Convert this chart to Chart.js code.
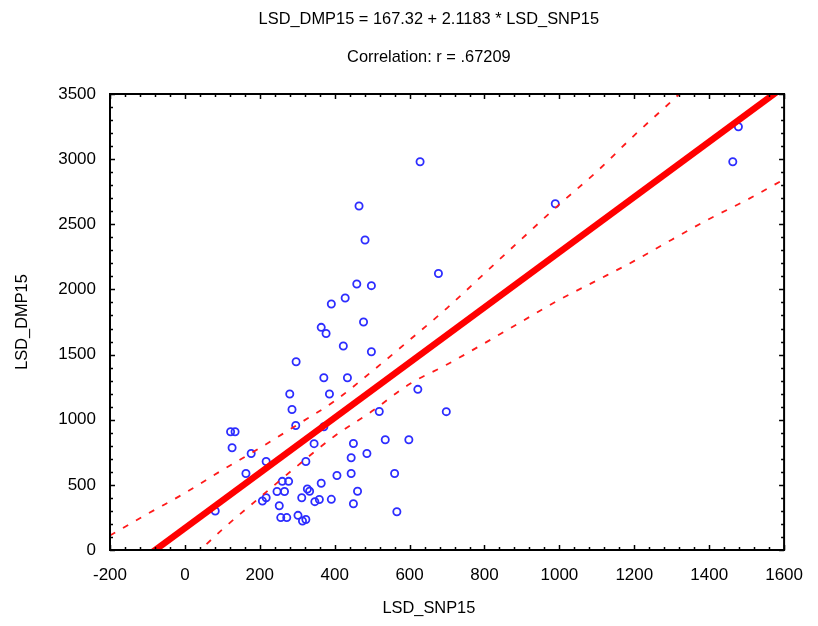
<!DOCTYPE html>
<html>
<head>
<meta charset="utf-8">
<script src="https://cdn.jsdelivr.net/npm/chart.js@4"></script>
<style>
  html, body { margin: 0; padding: 0; background: #fff; }
  canvas { display: block; }
</style>
</head>
<body>
<canvas id="c" width="818" height="626"></canvas>
<script>
// ---- data ----
const titleLines = ['LSD_DMP15 = 167.32 + 2.1183 * LSD_SNP15', 'Correlation: r = .67209'];
const xAxisTitle = 'LSD_SNP15';
const yAxisTitle = 'LSD_DMP15';

const xTickValues = [-200, 0, 200, 400, 600, 800, 1000, 1200, 1400, 1600];
const yTickValues = [0, 500, 1000, 1500, 2000, 2500, 3000, 3500];

// observed points
const snp = [628,989,465,481,677,459,498,428,391,477,364,377,423,498,297,371,434,280,386,622,
             286,519,698,296,122,134,126,177,345,450,535,598,486,444,217,323,163,260,277,364,
             406,444,560,246,266,327,333,461,217,207,312,359,347,391,450,252,256,272,302,314,
             323,566,81,1478,1463,371];
const dmp = [2980,2658,2640,2379,2122,2042,2029,1934,1888,1750,1709,1662,1566,1522,1445,1322,1322,1197,1197,1233,
             1078,1063,1062,956,908,908,785,741,816,817,846,846,741,708,679,679,587,527,527,512,
             572,587,587,449,449,468,451,451,401,376,401,388,371,389,355,340,249,249,266,223,
             234,294,299,3249,2980,946];

// fitted regression line end points
const fitX = [-200, 1600];
const fitY = [-256, 3557];

// 95% confidence band
const bandX     = [-200, -100, 0, 100, 200, 300, 400, 500, 600, 700, 800, 900, 1000, 1100, 1200, 1300, 1400, 1500, 1600];
const upperBand = [111, 277, 437, 614, 783, 961, 1144, 1372, 1612, 1857, 2123, 2390, 2653, 2905, 3183, 3446, 3720, null, null];
const lowerBand = [null, null, -115, 158, 403, 645, 875, 1066, 1274, 1424, 1587, 1755, 1921, 2069, 2219, 2382, 2541, 2686, 2845];

const toXY = (xs, ys) => xs.map((x, i) => ({ x: x, y: ys[i] }));

const FONT = '"Liberation Sans", Arial, sans-serif';

// frame with inward tick marks, positioned through the scales
const framePlugin = {
  id: 'frame',
  afterDraw(chart) {
    const { ctx, chartArea: a, scales: { x, y } } = chart;
    ctx.save();
    ctx.strokeStyle = '#000';
    ctx.lineWidth = 2;
    ctx.strokeRect(a.left, a.top, a.right - a.left, a.bottom - a.top);
    ctx.lineWidth = 1.5;
    ctx.beginPath();
    for (let v = x.min; v <= x.max + 1e-6; v += 40) {
      const px = Math.round(x.getPixelForValue(v)) + 0.5;
      const len = (Math.abs(v) % 200 === 0) ? 5 : 3;
      ctx.moveTo(px, a.bottom); ctx.lineTo(px, a.bottom - len);
      ctx.moveTo(px, a.top); ctx.lineTo(px, a.top + len);
    }
    for (let v = y.min; v <= y.max + 1e-6; v += 100) {
      const py = Math.round(y.getPixelForValue(v)) + 0.5;
      const len = (v % 500 === 0) ? 5 : 3;
      ctx.moveTo(a.left, py); ctx.lineTo(a.left + len, py);
      ctx.moveTo(a.right, py); ctx.lineTo(a.right - len, py);
    }
    ctx.stroke();
    ctx.restore();
  }
};

// chart title lines and axis titles
const textPlugin = {
  id: 'texts',
  afterDraw(chart) {
    const { ctx, chartArea: a } = chart;
    const cx = a.left + (a.right - a.left) * 0.473;
    ctx.save();
    ctx.fillStyle = '#000';
    ctx.font = '16.4px ' + FONT;
    ctx.textAlign = 'center';
    ctx.textBaseline = 'middle';
    ctx.fillText(titleLines[0], cx, 19);
    ctx.fillText(titleLines[1], cx, 57);
    ctx.fillText(xAxisTitle, cx, 608);
    ctx.translate(22, (a.top + a.bottom) / 2);
    ctx.rotate(-Math.PI / 2);
    ctx.fillText(yAxisTitle, 0, 0);
    ctx.restore();
  }
};

new Chart(document.getElementById('c'), {
  type: 'scatter',
  data: {
    datasets: [
      {
        label: 'fit',
        type: 'line',
        data: toXY(fitX, fitY),
        borderColor: '#ff0000',
        borderWidth: 6.5,
        pointRadius: 0,
        fill: false,
        clip: 0,
        order: 0
      },
      {
        label: 'upper',
        type: 'line',
        data: toXY(bandX, upperBand),
        borderColor: '#ff1a1a',
        borderWidth: 1.8,
        borderDash: [6, 9],
        pointRadius: 0,
        fill: false,
        cubicInterpolationMode: 'monotone',
        spanGaps: false,
        clip: 0,
        order: 1
      },
      {
        label: 'lower',
        type: 'line',
        data: toXY(bandX, lowerBand),
        borderColor: '#ff1a1a',
        borderWidth: 1.8,
        borderDash: [6, 9],
        pointRadius: 0,
        fill: false,
        cubicInterpolationMode: 'monotone',
        spanGaps: false,
        clip: 0,
        order: 1
      },
      {
        label: 'data',
        data: toXY(snp, dmp),
        pointStyle: 'circle',
        pointRadius: 3.6,
        pointBorderWidth: 1.8,
        pointBorderColor: 'rgb(45,45,255)',
        pointBackgroundColor: 'rgba(0,0,0,0)',
        order: 2
      }
    ]
  },
  options: {
    responsive: false,
    devicePixelRatio: 1,
    animation: false,
    layout: { padding: { top: 94, left: 0, right: 27, bottom: 0 } },
    plugins: {
      legend: { display: false },
      title: { display: false },
      tooltip: { enabled: false }
    },
    scales: {
      x: {
        type: 'linear',
        min: -200, max: 1600,
        afterBuildTicks: s => { s.ticks = xTickValues.map(v => ({ value: v })); },
        afterFit: s => { s.height = 76; },
        grid: { display: false, drawTicks: false, tickLength: 0 },
        border: { display: false },
        ticks: { color: '#000', font: { size: 17, family: FONT }, padding: 15, maxRotation: 0,
                 callback: v => String(v) }
      },
      y: {
        type: 'linear',
        min: 0, max: 3500,
        afterBuildTicks: s => { s.ticks = yTickValues.map(v => ({ value: v })); },
        afterFit: s => { s.width = 110; },
        grid: { display: false, drawTicks: false, tickLength: 0 },
        border: { display: false },
        ticks: { color: '#000', font: { size: 17, family: FONT }, padding: 14,
                 callback: v => String(v) }
      }
    }
  },
  plugins: [framePlugin, textPlugin]
});
</script>
</body>
</html>
